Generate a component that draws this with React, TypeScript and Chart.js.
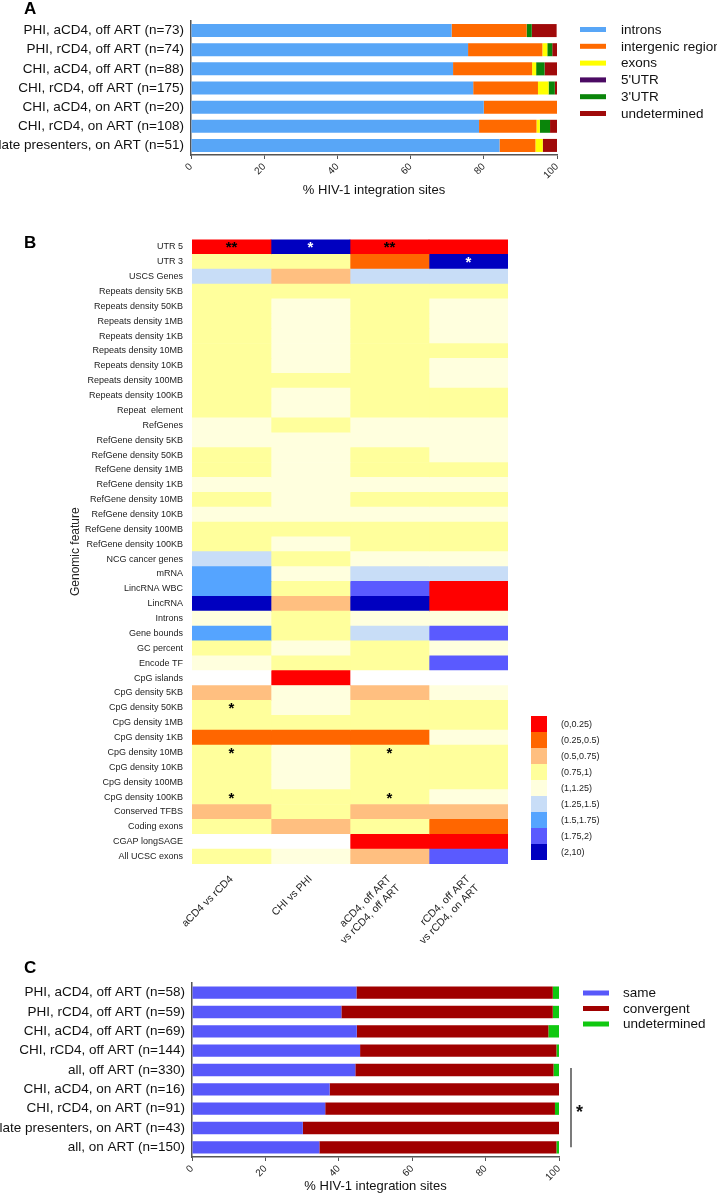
import React, { useEffect, useRef } from "react";
import { Chart, registerables } from "chart.js";
Chart.register(...registerables);

const FONT = "'Liberation Sans', Arial, sans-serif";

// ---------- Panel A ----------
const aCategories = [
  "PHI, aCD4, off ART (n=73)",
  "PHI, rCD4, off ART (n=74)",
  "CHI, aCD4, off ART (n=88)",
  "CHI, rCD4, off ART (n=175)",
  "CHI, aCD4, on ART (n=20)",
  "CHI, rCD4, on ART (n=108)",
  "late presenters, on ART (n=51)",
];
const aSeriesNames = ["introns", "intergenic region", "exons", "5'UTR", "3'UTR", "undetermined"];
const aIntrons = [71.2, 75.7, 71.6, 77.1, 80.0, 78.7, 84.3];
const aIntergenic = [20.5, 20.3, 21.6, 17.7, 20.0, 15.7, 9.8];
const aExons = [0, 1.35, 1.1, 2.9, 0, 0.9, 2.0];
const a5UTR = [0, 0, 0, 0, 0, 0, 0];
const a3UTR = [1.4, 1.35, 2.3, 1.7, 0, 2.8, 0];
const aUndetermined = [6.8, 1.35, 3.4, 0.6, 0, 1.9, 3.9];
const aColors = ["#58A6F7", "#FF6A00", "#FFFF00", "#4B0A63", "#0A850A", "#A00A0A"];

// ---------- Panel B ----------
const heatRows = [
  "UTR 5", "UTR 3", "USCS Genes",
  "Repeats density 5KB", "Repeats density 50KB", "Repeats density 1MB", "Repeats density 1KB",
  "Repeats density 10MB", "Repeats density 10KB", "Repeats density 100MB", "Repeats density 100KB",
  "Repeat  element", "RefGenes",
  "RefGene density 5KB", "RefGene density 50KB", "RefGene density 1MB", "RefGene density 1KB",
  "RefGene density 10MB", "RefGene density 10KB", "RefGene density 100MB", "RefGene density 100KB",
  "NCG cancer genes", "mRNA", "LincRNA WBC", "LincRNA", "Introns", "Gene bounds", "GC percent",
  "Encode TF", "CpG islands",
  "CpG density 5KB", "CpG density 50KB", "CpG density 1MB", "CpG density 1KB",
  "CpG density 10MB", "CpG density 10KB", "CpG density 100MB", "CpG density 100KB",
  "Conserved TFBS", "Coding exons", "CGAP longSAGE", "All UCSC exons",
];
const heatColumns = [
  "aCD4 vs rCD4",
  "CHI vs PHI",
  ["aCD4, off ART", "vs rCD4, off ART"],
  ["rCD4, off ART", "vs rCD4, on ART"],
];
// bin index per cell (-1 = no value)
const heatCol1 = [0,3,5,3,3,3,3,3,3,3,3,3, 4,4,3,3,4,3,4,3,3, 5,6,6,8,4,6,3,4,-1, 2,3,3,1,3,3,3,3,2,3,-1,3];
const heatCol2 = [8,3,2,3,4,4,4,4,4,3,4,4, 3,4,4,4,4,4,4,3,4, 3,4,3,2,3,3,4,3,0, 4,4,3,1,4,4,4,3,3,2,-1,4];
const heatCol3 = [0,1,5,3,3,3,3,3,3,3,3,3, 4,4,3,3,4,3,4,3,3, 4,5,7,8,4,5,3,3,-1, 2,3,3,1,3,3,3,3,2,3,0,2];
const heatCol4 = [0,8,5,3,4,4,4,3,4,4,3,3, 4,4,4,3,4,3,4,3,3, 4,5,0,0,4,7,4,7,-1, 4,3,3,4,3,3,3,4,2,1,0,7];
const heatBinLabels = ["(0,0.25)", "(0.25,0.5)", "(0.5,0.75)", "(0.75,1)", "(1,1.25)", "(1.25,1.5)", "(1.5,1.75)", "(1.75,2)", "(2,10)"];
const heatBinColors = ["#FF0000", "#FF6600", "#FFBF80", "#FFFF9C", "#FFFFDE", "#C8DDF7", "#55A4FF", "#5A5AFF", "#0000C0"];
const heatStarRows = [0, 0, 0, 1, 31, 34, 34, 37, 37];
const heatStarCols = [0, 1, 2, 3, 0, 0, 2, 0, 2];
const heatStarText = ["**", "*", "**", "*", "*", "*", "*", "*", "*"];
const heatStarWhite = [false, true, false, true, false, false, false, false, false];

// ---------- Panel C ----------
const cCategories = [
  "PHI, aCD4, off ART (n=58)",
  "PHI, rCD4, off ART (n=59)",
  "CHI, aCD4, off ART (n=69)",
  "CHI, rCD4, off ART (n=144)",
  "all, off ART (n=330)",
  "CHI, aCD4, on ART (n=16)",
  "CHI, rCD4, on ART (n=91)",
  "late presenters, on ART (n=43)",
  "all, on ART (n=150)",
];
const cSeriesNames = ["same", "convergent", "undetermined"];
const cSame = [44.8, 40.7, 44.9, 45.8, 44.5, 37.5, 36.3, 30.2, 34.7];
const cConvergent = [53.5, 57.6, 52.2, 53.5, 54.0, 62.5, 62.6, 69.8, 64.6];
const cUndetermined = [1.7, 1.7, 2.9, 0.7, 1.5, 0, 1.1, 0, 0.7];
const cColors = ["#5858FA", "#A00000", "#10C810"];
const cBracketFrom = "all, off ART (n=330)";
const cBracketTo = "all, on ART (n=150)";

const lineLegend = (x0: number, top: number, step: number, len: number, gap: number) => ({
  id: "lineLegend",
  afterDraw(chart: any) {
    const { ctx, chartArea } = chart;
    ctx.save();
    chart.data.datasets.forEach((ds: any, i: number) => {
      const y = chartArea.top + top + i * step;
      const x = chartArea.right + x0;
      ctx.fillStyle = ds.backgroundColor;
      ctx.fillRect(x, y - 2.5, len, 5);
      ctx.fillStyle = "#111";
      ctx.font = `13.5px ${FONT}`;
      ctx.textBaseline = "middle";
      ctx.textAlign = "left";
      ctx.fillText(ds.label, x + len + gap, y + 0.5);
    });
    ctx.restore();
  },
});

function stackedOptions(padTop: number, padRight: number, xHeight: number, yWidth: number) {
  return {
    indexAxis: "y" as const,
    responsive: false,
    animation: false as const,
    layout: { padding: { top: padTop, right: padRight, left: 0, bottom: 0 } },
    plugins: { legend: { display: false }, tooltip: { enabled: false } },
    scales: {
      x: {
        stacked: true,
        min: 0,
        max: 100,
        afterFit: (s: any) => { s.height = xHeight; },
        ticks: { stepSize: 20, minRotation: 45, maxRotation: 45, font: { family: FONT, size: 10 }, color: "#222", padding: 2 },
        grid: { display: true, drawOnChartArea: false, drawTicks: true, tickLength: 4, color: "#555" },
        border: { display: true, color: "#555", width: 1.5 },
        title: { display: true, text: "% HIV-1 integration sites", font: { family: FONT, size: 13 }, color: "#111", padding: { top: 0, bottom: 2 } },
      },
      y: {
        stacked: true,
        afterFit: (s: any) => { s.width = yWidth; },
        ticks: { font: { family: FONT, size: 13.5 }, color: "#111", padding: 7, autoSkip: false },
        grid: { display: false, drawTicks: false },
        border: { display: true, color: "#555", width: 1.5 },
      },
    },
  };
}

export default function App() {
  const refA = useRef<HTMLCanvasElement>(null);
  const refB = useRef<HTMLCanvasElement>(null);
  const refC = useRef<HTMLCanvasElement>(null);

  useEffect(() => {
    const aSeries = [aIntrons, aIntergenic, aExons, a5UTR, a3UTR, aUndetermined];
    const chartA = new Chart(refA.current as HTMLCanvasElement, {
      type: "bar",
      data: {
        labels: aCategories,
        datasets: aSeries.map((vals, i) => ({
          label: aSeriesNames[i],
          data: vals,
          backgroundColor: aColors[i],
          borderWidth: 0,
          barPercentage: 0.68,
          categoryPercentage: 1,
        })),
      },
      options: stackedOptions(21, 160, 45, 191) as any,
      plugins: [lineLegend(23, 8.5, 16.8, 26, 15)],
    });

    const heatCols = [heatCol1, heatCol2, heatCol3, heatCol4];
    const chartB = new Chart(refB.current as HTMLCanvasElement, {
      type: "bar",
      data: {
        labels: heatRows,
        datasets: heatCols.map((col, ci) => ({
          label: String(ci),
          data: col.map(() => [ci, ci + 1]),
          backgroundColor: col.map((b) => (b < 0 ? "#FFFFFF" : heatBinColors[b])),
          borderWidth: 0,
          barPercentage: 1,
          categoryPercentage: 1,
          grouped: false,
          xAxisID: "x",
          yAxisID: "y",
        })),
      },
      options: {
        indexAxis: "y",
        responsive: false,
        animation: false,
        layout: { padding: { top: 9, right: 209, left: 62, bottom: 0 } },
        plugins: { legend: { display: false }, tooltip: { enabled: false } },
        scales: {
          x: { type: "linear", min: 0, max: 4, display: false },
          x2: {
            type: "category",
            labels: heatColumns as any,
            position: "bottom",
            offset: true,
            afterFit: (s: any) => { s.height = 91; },
            grid: { display: false, drawTicks: false },
            border: { display: false },
            ticks: { minRotation: 45, maxRotation: 45, autoSkip: false, font: { family: FONT, size: 10.5 }, color: "#222", padding: 9 },
          },
          y: {
            type: "category",
            afterFit: (s: any) => { s.width = 130; },
            grid: { display: false, drawTicks: false },
            border: { display: false },
            ticks: { autoSkip: false, font: { family: FONT, size: 9 }, color: "#222", padding: 9 },
            title: { display: true, text: "Genomic feature", font: { family: FONT, size: 12 }, color: "#222", padding: { top: 6, bottom: 0 } },
          },
        },
      } as any,
      plugins: [
        {
          id: "heatExtras",
          afterDraw(chart: any) {
            const { ctx, chartArea } = chart;
            const xs = chart.scales.x;
            const ys = chart.scales.y;
            ctx.save();
            // stars
            heatStarRows.forEach((r, i) => {
              const c = heatStarCols[i];
              const px = xs.getPixelForValue(c + 0.5);
              const py = ys.getPixelForValue(r);
              ctx.font = `bold 15px ${FONT}`;
              ctx.textAlign = "center";
              ctx.textBaseline = "alphabetic";
              ctx.fillStyle = heatStarWhite[i] ? "#FFFFFF" : "#000000";
              ctx.fillText(heatStarText[i], px, py + 5.5);
            });
            // bin legend
            const sw = 16;
            const x = chartArea.right + 23;
            const top = chartArea.bottom - 4 - heatBinLabels.length * sw;
            heatBinLabels.forEach((lab, i) => {
              ctx.fillStyle = heatBinColors[i];
              ctx.fillRect(x, top + i * sw, sw, sw);
              ctx.fillStyle = "#222";
              ctx.font = `9px ${FONT}`;
              ctx.textAlign = "left";
              ctx.textBaseline = "middle";
              ctx.fillText(lab, x + 30, top + i * sw + sw / 2 + 0.5);
            });
            ctx.restore();
          },
        },
      ],
    });

    const cSeries = [cSame, cConvergent, cUndetermined];
    const chartC = new Chart(refC.current as HTMLCanvasElement, {
      type: "bar",
      data: {
        labels: cCategories,
        datasets: cSeries.map((vals, i) => ({
          label: cSeriesNames[i],
          data: vals,
          backgroundColor: cColors[i],
          borderWidth: 0,
          barPercentage: 0.64,
          categoryPercentage: 1,
        })),
      },
      options: stackedOptions(28, 158, 39, 192) as any,
      plugins: [
        lineLegend(24, 10, 15.5, 26, 14),
        {
          id: "bracket",
          afterDraw(chart: any) {
            const { ctx, chartArea } = chart;
            const ys = chart.scales.y;
            const y0 = ys.getPixelForValue(cCategories.indexOf(cBracketFrom)) - 2;
            const y1 = ys.getPixelForValue(cCategories.indexOf(cBracketTo));
            const x = chartArea.right + 12;
            ctx.save();
            ctx.strokeStyle = "#222";
            ctx.lineWidth = 1.2;
            ctx.beginPath();
            ctx.moveTo(x, y0);
            ctx.lineTo(x, y1);
            ctx.stroke();
            ctx.fillStyle = "#111";
            ctx.font = `bold 18px ${FONT}`;
            ctx.textAlign = "left";
            ctx.textBaseline = "alphabetic";
            ctx.fillText("*", x + 5, (y0 + y1) / 2 + 10);
            ctx.restore();
          },
        },
      ],
    });

    return () => {
      chartA.destroy();
      chartB.destroy();
      chartC.destroy();
    };
  }, []);

  const letter: React.CSSProperties = {
    position: "absolute",
    left: 24,
    fontFamily: FONT,
    fontWeight: "bold",
    fontSize: 17,
    lineHeight: "17px",
    color: "#000",
  };

  return (
    <div style={{ position: "absolute", left: 0, top: 0, width: 717, height: 1196, background: "#fff", overflow: "hidden" }}>
      <canvas ref={refA} width={717} height={200} style={{ position: "absolute", left: 0, top: 0, width: 717, height: 200 }} />
      <canvas ref={refB} width={717} height={730} style={{ position: "absolute", left: 0, top: 225, width: 717, height: 730 }} />
      <canvas ref={refC} width={717} height={241} style={{ position: "absolute", left: 0, top: 955, width: 717, height: 241 }} />
      <div style={{ ...letter, top: 0 }}>A</div>
      <div style={{ ...letter, top: 234 }}>B</div>
      <div style={{ ...letter, top: 959 }}>C</div>
    </div>
  );
}
